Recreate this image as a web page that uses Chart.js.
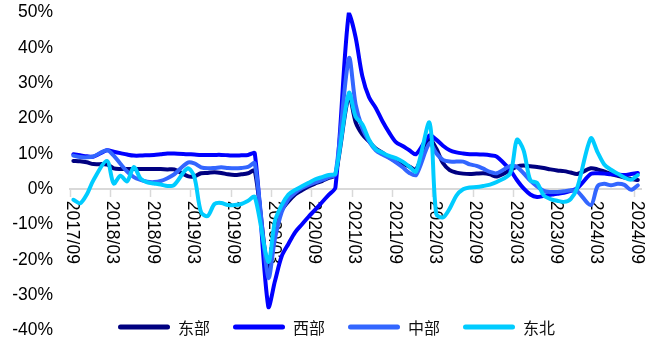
<!DOCTYPE html>
<html>
<head>
<meta charset="utf-8">
<script src="https://cdn.jsdelivr.net/npm/chart.js@4.4.1/dist/chart.umd.min.js"></script>
<style>
  html, body { margin: 0; padding: 0; background: #fff; }
  canvas { display: block; }
</style>
</head>
<body>
<canvas id="c" width="655" height="341"></canvas>
<script>
// Monthly categories 2017/09 .. 2024/09
const months = [];
for (let yr = 2017, mo = 9; months.length < 85; ) {
  months.push(yr + '/' + String(mo).padStart(2, '0'));
  mo++;
  if (mo > 12) { mo = 1; yr++; }
}

// Labels shown under the axis (every six months)
const xTickLabels = ['2017/09', '2018/03', '2018/09', '2019/03', '2019/09', '2020/03', '2020/09',
  '2021/03', '2021/09', '2022/03', '2022/09', '2023/03', '2023/09', '2024/03', '2024/09'];

const seriesNames = ['东部', '西部', '中部', '东北'];

// Cumulative YoY growth, % (January not published -> null)
const east = [8.0, 7.9, 7.6, 7.1, null, 7.0, 5.9, 5.7, 5.7, 5.7, 5.7, 5.7,
  5.7, 5.7, 5.6, 5.6, null, 3.7, 3.6, 4.5, 4.6, 4.8, 4.6, 4.2,
  4.0, 4.2, 4.5, 5.2, null, -23, -11, -6, -3.5, -1.5, -0.3, 0.8,
  1.6, 2.3, 3.2, 4.0, null, 26.5, 19, 15.5, 13.5, 11.5, 10.3, 9.0,
  7.8, 7.2, 6.4, 5.6, null, 14.0, 11.5, 7.4, 5.4, 4.7, 4.4, 4.3,
  4.4, 4.5, 4.2, 3.6, null, 5.4, 6.4, 6.7, 6.5, 6.3, 6.0, 5.6,
  5.3, 5.1, 4.7, 4.3, null, 5.9, 5.6, 5.0, 4.3, 3.8, 3.3, 2.9,
  2.6];

const west = [9.9, 9.6, 9.3, 9.2, null, 11.0, 10.6, 10.2, 9.8, 9.5, 9.5, 9.6,
  9.7, 9.9, 10.1, 10.1, null, 9.9, 9.8, 9.7, 9.7, 9.7, 9.7, 9.6,
  9.5, 9.6, 9.7, 10.1, null, -33.2, -26, -19, -15.5, -12.2, -10, -7.8,
  -5.8, -3.7, -1.6, 0.5, null, 50, 43, 32, 26, 23, 19.2, 16,
  13.3, 12.2, 11, 9.9, null, 15.2, 14.0, 12.3, 11.0, 10.4, 10.1, 9.9,
  9.9, 9.8, 9.6, 9.2, null, 5.4, 2.6, 0.2, -1.5, -2.2, -1.9, -1.6,
  -1.3, -1.0, -0.5, 0.3, null, 4.3, 4.5, 4.4, 4.2, 4.1, 4.0, 4.3,
  4.6];

const central = [9.5, 9.1, 9.0, 9.3, null, 11.0, 9.5, 7.2, 5.0, 3.4, 2.6, 2.1,
  2.0, 2.3, 3.1, 4.2, null, 7.5, 7.3, 6.2, 5.9, 6.0, 6.2, 6.0,
  5.9, 6.0, 6.3, 7.3, null, -25, -14, -6.5, -2.8, -1.0, 0.3, 1.2,
  1.9, 2.6, 3.4, 4.2, null, 37, 24, 17.3, 13.6, 11, 9.8, 8.8,
  7.6, 6.2, 4.6, 4.0, null, 13.0, 10.2, 8.3, 7.8, 7.8, 7.8, 7.0,
  6.6, 5.8, 4.9, 4.5, null, 6.5, 6.3, 4.5, 2.4, 0.8, -0.5, -0.8,
  -0.8, -0.6, -0.3, -0.6, null, -4.5, 0.8, 1.5, 1.1, 1.5, 1.2, -0.2,
  1.1];

const northeast = [-3.0, -4.0, -1.5, 2.6, null, 8.0, 1.6, 3.8, 2.2, 6.3, 3.0, 1.9,
  1.6, 1.3, 0.9, 1.2, null, 5.9, 3.5, -6.5, -7.6, -4.2, -3.9, -4.5,
  -4.5, -4.2, -3.3, -2.2, null, -20.5, -9, -4.5, -1.5, -0.2, 0.8, 1.8,
  2.8, 3.4, 4.0, 4.4, null, 27.2, 20.5, 18.4, 14, 11.3, 10.3, 9.4,
  8.8, 7.8, 6.4, 5.0, null, 18.8, -7, -8, -5.5, -1.8, 0, 0.5,
  0.6, 0.9, 1.3, 2.0, null, 4.5, 14.0, 11.0, 2.5, 1.8, -1.8, -2.8,
  -3.3, -3.6, -2.8, 0.5, null, 14.4, 10.5, 7.0, 5.5, 4.4, 3.3, 2.7,
  4.0];

const seriesColors = ['#000080', '#0000FF', '#3366FF', '#00CCFF'];
const seriesData = [east, west, central, northeast];

const AXIS_GREY = '#d9d9d9';
const LABEL_FONT = '"Liberation Sans", Arial, Helvetica, sans-serif';
const LABEL_SIZE = 17.5;

// Vertical month labels hanging below the zero line
const monthAxisLabels = {
  id: 'monthAxisLabels',
  beforeDatasetsDraw(chart) {
    const { ctx, scales: { x, y } } = chart;
    const y0 = y.getPixelForValue(0);
    const capH = LABEL_SIZE * 0.716;
    ctx.save();
    ctx.font = LABEL_SIZE + 'px ' + LABEL_FONT;
    ctx.fillStyle = '#000';
    ctx.textAlign = 'left';
    ctx.textBaseline = 'alphabetic';
    xTickLabels.forEach(lbl => {
      const px = x.getPixelForValue(months.indexOf(lbl));
      ctx.save();
      ctx.translate(px - capH / 2, y0 + 11.5);
      ctx.rotate(Math.PI / 2);
      ctx.fillText(lbl, 0, 0);
      ctx.restore();
    });
    ctx.restore();
  }
};

// Single-row legend with line samples along the bottom
const legendRow = {
  id: 'legendRow',
  afterDraw(chart) {
    const { ctx } = chart;
    const sampleLen = 52, textGap = 8, itemGap = 23, fontSize = 16;
    const yMid = 327;
    let x = 118;
    ctx.save();
    ctx.font = fontSize + 'px "Noto Sans CJK SC", sans-serif';
    ctx.textBaseline = 'middle';
    ctx.textAlign = 'left';
    chart.data.datasets.forEach(ds => {
      ctx.strokeStyle = ds.borderColor;
      ctx.lineWidth = 5;
      ctx.lineCap = 'round';
      ctx.beginPath();
      ctx.moveTo(x + 2.5, yMid);
      ctx.lineTo(x + sampleLen - 2.5, yMid);
      ctx.stroke();
      ctx.fillStyle = '#111';
      ctx.fillText(ds.label, x + sampleLen + textGap, yMid + 1);
      x += sampleLen + textGap + ctx.measureText(ds.label).width + itemGap;
    });
    ctx.restore();
  }
};

const datasets = seriesNames.map((name, k) => ({
  label: name,
  data: seriesData[k],
  borderColor: seriesColors[k],
  backgroundColor: seriesColors[k],
  borderWidth: 4,
  pointRadius: 0,
  pointHoverRadius: 0,
  tension: 0.3,
  spanGaps: true,
  fill: false,
  borderJoinStyle: 'round',
  borderCapStyle: 'round',
  order: seriesNames.length - k
}));

new Chart(document.getElementById('c'), {
  type: 'line',
  data: { labels: months, datasets },
  options: {
    responsive: false,
    animation: false,
    devicePixelRatio: 1,
    layout: { padding: { top: 12.5, right: 13.8, bottom: 10.5, left: 0 } },
    plugins: {
      legend: { display: false },
      tooltip: { enabled: false }
    },
    scales: {
      x: {
        type: 'category',
        position: { y: 0 },
        offset: true,
        grid: {
          display: true,
          offset: true,
          drawOnChartArea: false,
          drawTicks: true,
          tickLength: 7,
          tickWidth: 1.5,
          tickColor: c => (c.index !== undefined && c.index % 6 === 0) ? AXIS_GREY : 'rgba(0,0,0,0)'
        },
        border: { display: true, color: AXIS_GREY, width: 2 },
        ticks: { display: false }
      },
      y: {
        min: -40,
        max: 50,
        grid: { display: false, drawTicks: false },
        border: { display: false },
        ticks: {
          stepSize: 10,
          padding: 17,
          color: '#000',
          font: { family: LABEL_FONT, size: LABEL_SIZE },
          callback: v => v + '%'
        },
        afterFit: s => {
          s.width = 70;
          s.paddingTop = 0;
          s.paddingBottom = 0;
        }
      }
    }
  },
  plugins: [monthAxisLabels, legendRow]
});
</script>
</body>
</html>
